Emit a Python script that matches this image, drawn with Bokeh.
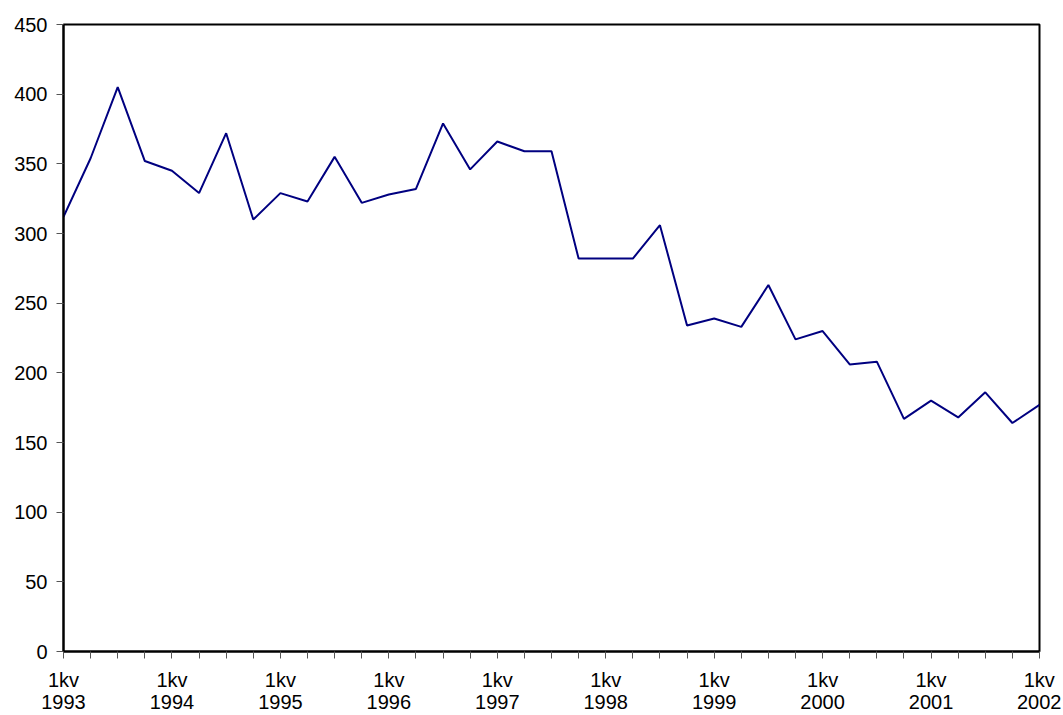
from bokeh.plotting import figure
from bokeh.models import Range1d, FixedTicker
from bokeh.embed import file_html
from bokeh.resources import INLINE

years = list(range(1993, 2003))
quarters = [f"{q}kv {y}" for y in range(1993, 2002) for q in (1, 2, 3, 4)] + ["1kv 2002"]
values = [312, 354, 405, 352, 345, 329, 372, 310, 329, 323, 355, 322,
          328, 332, 379, 346, 366, 359, 359, 282, 282, 282, 306, 234,
          239, 233, 263, 224, 230, 206, 208, 167, 180, 168, 186, 164, 177]
y_ticks = list(range(0, 451, 50))

x = list(range(len(values)))

p = figure(width=1061, height=715, output_backend="svg", toolbar_location=None,
           x_range=Range1d(0, len(values) - 1), y_range=Range1d(0, 450),
           min_border_left=63, min_border_top=24, min_border_right=22, min_border_bottom=60)

p.line(x, values, line_color="#000080", line_width=2)

p.xgrid.visible = False
p.ygrid.visible = False
p.outline_line_color = "black"
p.outline_line_width = 2
p.outline_line_alpha = 1

label_map = {}
for i, q in enumerate(quarters):
    if q.startswith("1kv"):
        label_map[i] = q.replace(" ", "\n")
    else:
        label_map[i] = ""

p.xaxis.ticker = FixedTicker(ticks=x)
p.xaxis.major_label_overrides = label_map
p.yaxis.ticker = FixedTicker(ticks=y_ticks)

for ax in (p.xaxis, p.yaxis):
    ax.axis_line_color = "black"
    ax.axis_line_width = 2
    ax.major_tick_line_color = "#555555"
    ax.major_tick_line_width = 1
    ax.major_tick_in = 0
    ax.major_tick_out = 7
    ax.minor_tick_line_color = None
    ax.major_label_text_font = "Liberation Sans"
    ax.major_label_text_font_size = "20px"
    ax.major_label_text_color = "black"

p.xaxis.major_label_standoff = 10
p.yaxis.major_label_standoff = 9
p.xaxis.major_label_text_line_height = 1.0

open("out.html", "w").write(file_html(p, INLINE))
